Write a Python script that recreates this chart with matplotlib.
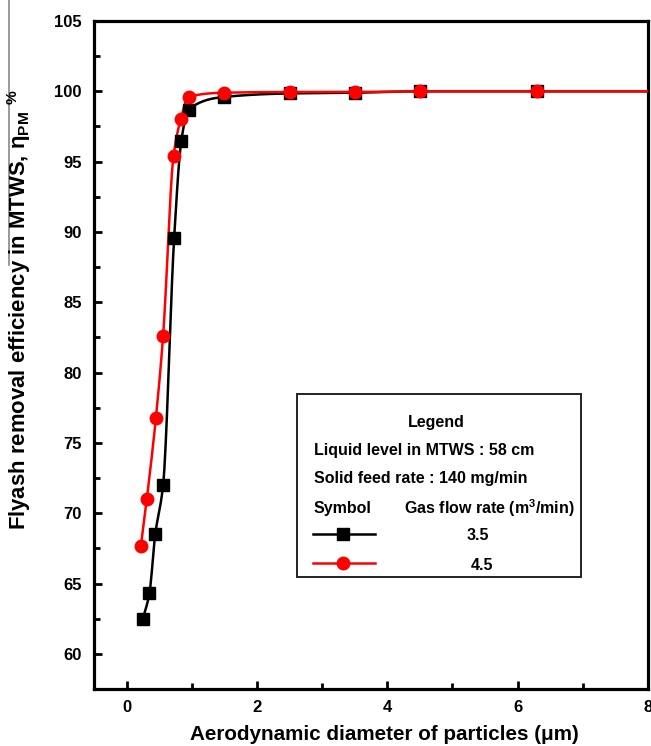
import numpy as np
import matplotlib
matplotlib.use("Agg")
import matplotlib.pyplot as plt
from matplotlib.lines import Line2D
from matplotlib.patches import Rectangle
from matplotlib.ticker import MultipleLocator

# ---------------- data ----------------
x_35 = [0.25, 0.35, 0.44, 0.56, 0.73, 0.84, 0.95, 1.5, 2.5, 3.5, 4.5, 6.3]
y_35 = [62.5, 64.3, 68.5, 72.0, 89.6, 96.5, 98.7, 99.6, 99.85, 99.9, 100.0, 100.0]
x_45 = [0.22, 0.31, 0.45, 0.56, 0.72, 0.83, 0.95, 1.5, 2.5, 3.5, 4.5, 6.3]
y_45 = [67.7, 71.0, 76.8, 82.6, 95.4, 98.0, 99.6, 99.9, 99.95, 99.95, 100.0, 100.0]
x_ticks = [0, 2, 4, 6, 8]
y_ticks = [60, 65, 70, 75, 80, 85, 90, 95, 100, 105]
flow_labels = ["3.5", "4.5"]

W, H = 651, 746
FONT = ["Liberation Sans", "DejaVu Sans"]
plt.rcParams["font.family"] = FONT
plt.rcParams["mathtext.fontset"] = "custom"
plt.rcParams["mathtext.rm"] = "Liberation Sans"


def pchip(x, y, xs):
    """Monotone cubic (Fritsch-Carlson) through the data points."""
    x = np.asarray(x, float); y = np.asarray(y, float)
    h = np.diff(x); d = np.diff(y) / h
    m = np.zeros_like(y)
    for k in range(1, len(x) - 1):
        if d[k - 1] * d[k] <= 0:
            m[k] = 0
        else:
            w1 = 2 * h[k] + h[k - 1]; w2 = h[k] + 2 * h[k - 1]
            m[k] = (w1 + w2) / (w1 / d[k - 1] + w2 / d[k])
    m[0] = d[0]; m[-1] = d[-1]
    out = np.empty_like(xs)
    for i, xv in enumerate(xs):
        k = min(max(np.searchsorted(x, xv) - 1, 0), len(x) - 2)
        t = (xv - x[k]) / h[k]
        h00 = 2 * t**3 - 3 * t**2 + 1; h10 = t**3 - 2 * t**2 + t
        h01 = -2 * t**3 + 3 * t**2; h11 = t**3 - t**2
        out[i] = h00 * y[k] + h10 * h[k] * m[k] + h01 * y[k + 1] + h11 * h[k] * m[k + 1]
    return out


fig = plt.figure(figsize=(W / 100, H / 100), dpi=100)
ax = fig.add_axes([94 / W, 1 - 689 / H, (648 - 94) / W, (689 - 21) / H])

xmax = 8.0
for xs_, ys_, col, mk, ms in [(x_35, y_35, "black", "s", 8), (x_45, y_45, "red", "o", 9)]:
    xa = list(xs_) + [xmax]
    ya = list(ys_) + [ys_[-1]]
    xx = np.linspace(xa[0], xa[-1], 800)
    ax.plot(xx, pchip(xa, ya, xx), color=col, lw=1.8, zorder=3)
    ax.plot(xs_, ys_, ls="none", marker=mk, ms=ms, color=col, mec=col, zorder=4)

ax.set_xlim(-0.5, 8.0)
ax.set_ylim(57.5, 105)
ax.set_xticks(x_ticks)
ax.set_yticks(y_ticks)
ax.xaxis.set_minor_locator(MultipleLocator(1))
ax.yaxis.set_minor_locator(MultipleLocator(2.5))
ax.tick_params(which="both", direction="in", width=2.0, labelsize=12)
ax.tick_params(which="major", length=6)
ax.tick_params(which="minor", length=4)
ax.tick_params(axis="x", pad=8)
ax.tick_params(axis="y", pad=9)
for lab in ax.get_xticklabels() + ax.get_yticklabels():
    lab.set_fontweight("bold")
for sp in ax.spines.values():
    sp.set_linewidth(2.3)

# axis titles, fitted to the reference length
renderer = fig.canvas.get_renderer()


def fit_text(t, target_px, horiz=True):
    bb = t.get_window_extent(renderer)
    cur = bb.width if horiz else bb.height
    t.set_fontsize(t.get_fontsize() * target_px / cur)


xl = fig.text(384 / W, 1 - 735 / H, "Aerodynamic diameter of particles (\u03bcm)",
              ha="center", va="center", fontsize=12, fontweight="bold")
fit_text(xl, 388)

yl = fig.text(19 / W, 1 - 310 / H,
              "Flyash removal efficiency in MTWS, \u03b7$_{\\mathregular{PM}}$ $^{\\mathregular{\\%}}$",
              ha="center", va="center", rotation=90, fontsize=12, fontweight="bold")
fit_text(yl, 440, horiz=False)

# thin gray artefact line at left edge
fig.add_artist(Line2D([8.5 / W, 8.5 / W], [1.0, 1 - 265 / H], color="#888888", lw=1.2,
                      transform=fig.transFigure, zorder=0))

# ---------------- legend box ----------------
def fx(px):
    return px / W


def fy(py):
    return 1 - py / H


fig.add_artist(Rectangle((fx(297), fy(577)), fx(581) - fx(297), fy(394) - fy(577),
                         transform=fig.transFigure, facecolor="white", edgecolor="#222222",
                         lw=1.4, zorder=10))

lt = fig.text(fx(314), fy(451), "Liquid level in MTWS : 58 cm", ha="left", va="center",
              fontsize=10, fontweight="bold", zorder=11)
fit_text(lt, 220)
fs = lt.get_fontsize()
fig.text(fx(436), fy(422), "Legend", ha="center", va="center", fontsize=fs,
         fontweight="bold", zorder=11)
fig.text(fx(314), fy(479), "Solid feed rate : 140 mg/min", ha="left", va="center",
         fontsize=fs, fontweight="bold", zorder=11)
fig.text(fx(314), fy(508), "Symbol", ha="left", va="center", fontsize=fs,
         fontweight="bold", zorder=11)
fig.text(fx(404), fy(508), "Gas flow rate (m$^{\\mathregular{3}}$/min)", ha="left",
         va="center", fontsize=fs, fontweight="bold", zorder=11)

for (yy, col, mk, ms, lab, tx) in [(534, "black", "s", 8, flow_labels[0], 478),
                                   (563, "red", "o", 9, flow_labels[1], 482)]:
    fig.add_artist(Line2D([fx(313), fx(375)], [fy(yy), fy(yy)], color=col, lw=1.8,
                          transform=fig.transFigure, zorder=11))
    fig.add_artist(Line2D([fx(343)], [fy(yy)], color=col, marker=mk, ms=ms, ls="none",
                          transform=fig.transFigure, zorder=12))
    fig.text(fx(tx), fy(yy + 2), lab, ha="center", va="center", fontsize=fs,
             fontweight="bold", zorder=11)

fig.savefig("out.png", dpi=100)
